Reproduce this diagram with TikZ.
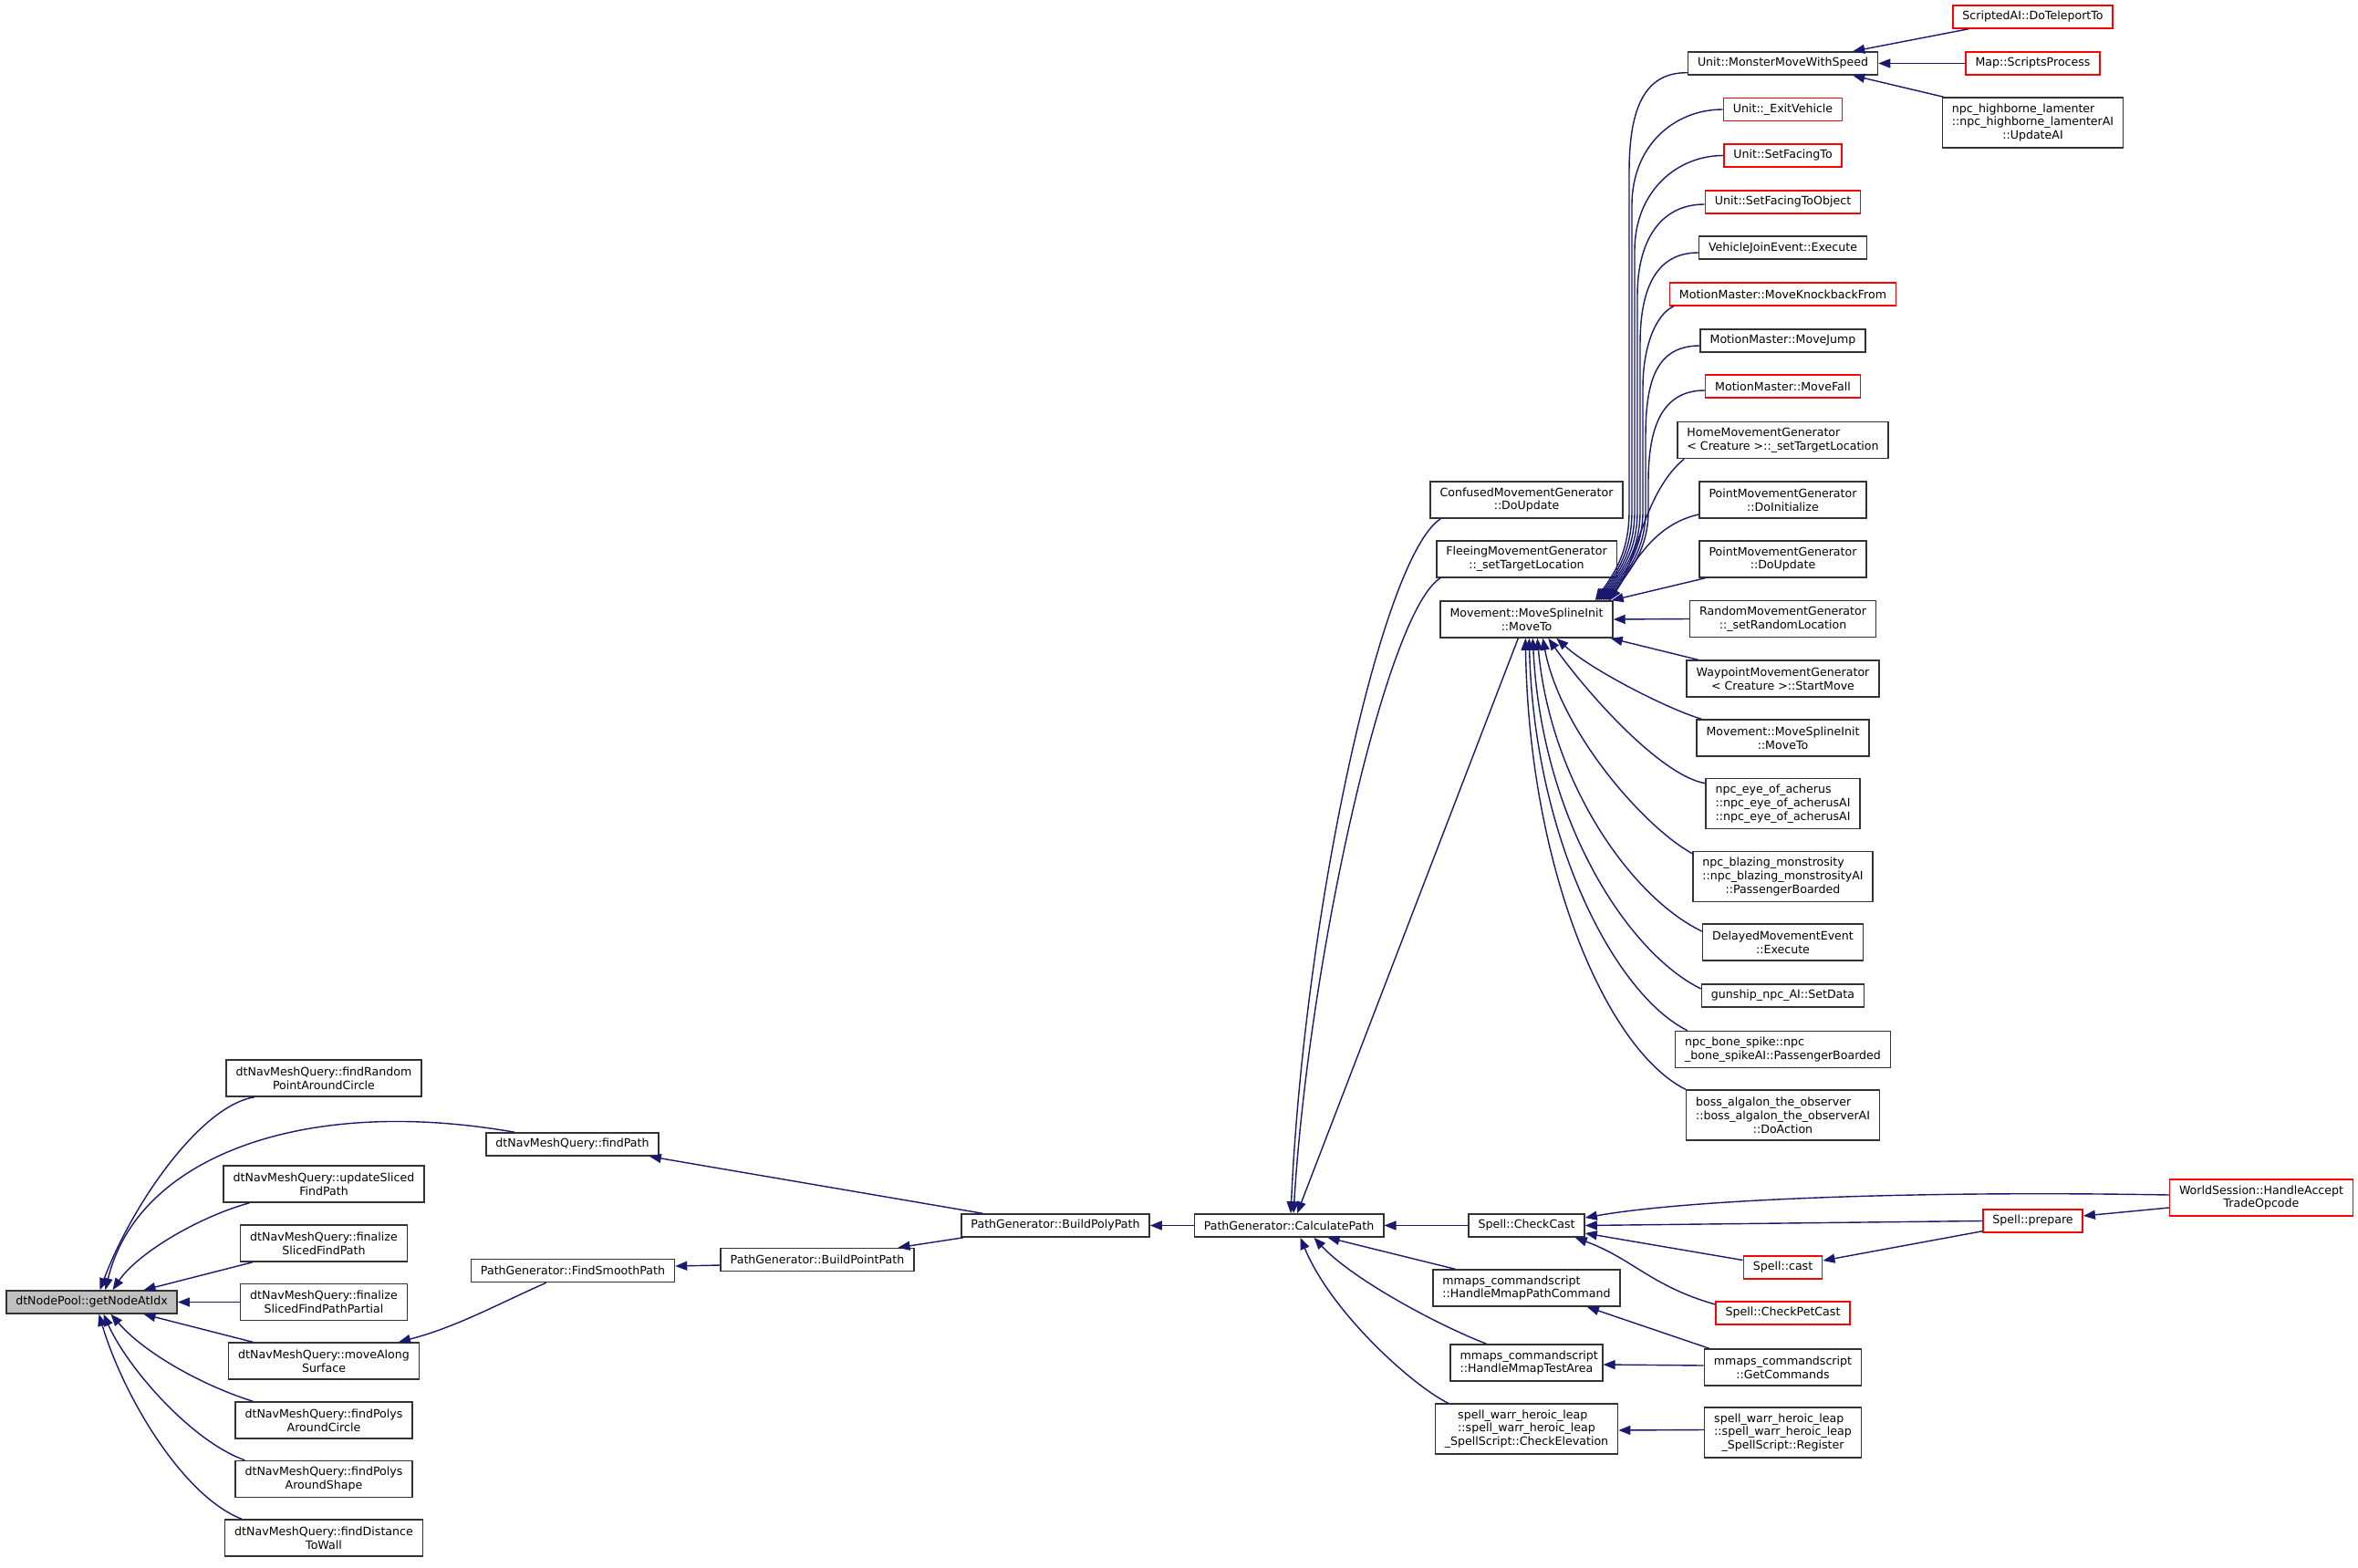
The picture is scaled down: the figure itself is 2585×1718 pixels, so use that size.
\documentclass[tikz,border=0pt]{standalone}
\usepackage{fontspec}
\setmainfont{DejaVu Sans}
\usetikzlibrary{arrows.meta,calc}
\definecolor{eblue}{HTML}{191970}
\definecolor{nred}{HTML}{FF0000}
\definecolor{rootgray}{HTML}{BFBFBF}
\definecolor{nborder}{HTML}{333333}
\newcommand\lft[2]{\rlap{#1}\phantom{#2}\\#2}
\begin{document}
\begin{tikzpicture}[x=0.5pt,y=-0.5pt,
  nd/.style={draw=nborder, line width=0.75pt, fill=white, rectangle, inner xsep=5.25pt, inner ysep=0pt, align=center, font=\fontsize{6.3pt}{7.4pt}\selectfont},
  rd/.style={nd, draw=nred},
  n1/.style={minimum height=12.5pt},
  n2/.style={minimum height=20pt},
  n3/.style={minimum height=27.5pt},
  lnk/.style={draw=eblue, line width=0.7pt, arrows={Triangle[length=6.5pt,width=5pt]-}}
]
\fill[white] (0,0) rectangle (2585,1718);
\useasboundingbox (0,0) rectangle (2585,1718);

% column 0-1
\node[nd,n1,fill=rootgray] (root) at (100.5,1427.5) {dtNodePool::getNodeAtIdx};
\node[nd,n2] (findRandom) at (355,1182) {dtNavMeshQuery::findRandom\\PointAroundCircle};
\node[nd,n2] (updateSliced) at (355,1298) {dtNavMeshQuery::updateSliced\\FindPath};
\node[nd,n2] (finalizeSliced) at (355,1363) {dtNavMeshQuery::finalize\\SlicedFindPath};
\node[nd,n2] (finalizePartial) at (355,1427.5) {dtNavMeshQuery::finalize\\SlicedFindPathPartial};
\node[nd,n2] (moveAlong) at (355,1492) {dtNavMeshQuery::moveAlong\\Surface};
\node[nd,n2] (polysCircle) at (355,1557) {dtNavMeshQuery::findPolys\\AroundCircle};
\node[nd,n2] (polysShape) at (355,1621.5) {dtNavMeshQuery::findPolys\\AroundShape};
\node[nd,n2] (findDistance) at (355,1686) {dtNavMeshQuery::findDistance\\ToWall};
% column 2-5
\node[nd,n1] (findPath) at (627.5,1254.5) {dtNavMeshQuery::findPath};
\node[nd,n1] (smoothPath) at (628,1393) {PathGenerator::FindSmoothPath};
\node[nd,n1] (pointPath) at (896,1381) {PathGenerator::BuildPointPath};
\node[nd,n1] (polyPath) at (1157,1343.5) {PathGenerator::BuildPolyPath};
\node[nd,n1] (calcPath) at (1413,1343.5) {PathGenerator::CalculatePath};
% column 6
\node[nd,n2] (confused) at (1673.5,548) {ConfusedMovementGenerator\\::DoUpdate};
\node[nd,n2] (fleeing) at (1673.5,613) {FleeingMovementGenerator\\::\_setTargetLocation};
\node[nd,n2] (moveToL) at (1673.5,679) {Movement::MoveSplineInit\\::MoveTo};
\node[nd,n1] (checkCast) at (1673.5,1343.5) {Spell::CheckCast};
\node[nd,n2] (pathCmd) at (1673.5,1412) {\lft{mmaps\_commandscript}{::HandleMmapPathCommand}};
\node[nd,n2] (testArea) at (1673.5,1494) {\lft{mmaps\_commandscript}{::HandleMmapTestArea}};
\node[nd,n3] (checkElev) at (1673.5,1566.5) {\lft{spell\_warr\_heroic\_leap}{::spell\_warr\_heroic\_leap}\\\_SpellScript::CheckElevation};
% column 7
\node[nd,n1] (monsterMove) at (1954.5,69.5) {Unit::MonsterMoveWithSpeed};
\node[rd,n1] (exitVeh) at (1954.5,120) {Unit::\_ExitVehicle};
\node[rd,n1] (facingTo) at (1954.5,170.5) {Unit::SetFacingTo};
\node[rd,n1] (facingObj) at (1954.5,221.5) {Unit::SetFacingToObject};
\node[nd,n1] (vehJoin) at (1954.5,271.5) {VehicleJoinEvent::Execute};
\node[rd,n1] (knockback) at (1954.5,322.5) {MotionMaster::MoveKnockbackFrom};
\node[nd,n1] (moveJump) at (1954.5,373.5) {MotionMaster::MoveJump};
\node[rd,n1] (moveFall) at (1954.5,423.5) {MotionMaster::MoveFall};
\node[nd,n2] (homeMG) at (1954.5,482.5) {\lft{HomeMovementGenerator}{< Creature >::\_setTargetLocation}};
\node[nd,n2] (pointInit) at (1954.5,548) {PointMovementGenerator\\::DoInitialize};
\node[nd,n2] (pointUpd) at (1954.5,613) {PointMovementGenerator\\::DoUpdate};
\node[nd,n2] (randomMG) at (1954.5,678.5) {RandomMovementGenerator\\::\_setRandomLocation};
\node[nd,n2] (waypoint) at (1954.5,744) {WaypointMovementGenerator\\< Creature >::StartMove};
\node[nd,n2] (moveToR) at (1954.5,809) {Movement::MoveSplineInit\\::MoveTo};
\node[nd,n3] (npcEye) at (1954.5,881) {\lft{npc\_eye\_of\_acherus}{::npc\_eye\_of\_acherusAI}\\::npc\_eye\_of\_acherusAI};
\node[nd,n3] (npcBlaze) at (1954.5,961) {\lft{npc\_blazing\_monstrosity}{::npc\_blazing\_monstrosityAI}\\::PassengerBoarded};
\node[nd,n2] (delayed) at (1954.5,1033) {DelayedMovementEvent\\::Execute};
\node[nd,n1] (gunship) at (1954.5,1091.5) {gunship\_npc\_AI::SetData};
\node[nd,n2] (boneSpike) at (1954.5,1150.5) {\lft{npc\_bone\_spike::npc}{\_bone\_spikeAI::PassengerBoarded}};
\node[nd,n3] (algalon) at (1954.5,1222.5) {\lft{boss\_algalon\_the\_observer}{::boss\_algalon\_the\_observerAI}\\::DoAction};
\node[rd,n1] (cast) at (1954.5,1389.5) {Spell::cast};
\node[rd,n1] (petCast) at (1954.5,1439.5) {Spell::CheckPetCast};
\node[nd,n2] (getCmds) at (1954.5,1499) {mmaps\_commandscript\\::GetCommands};
\node[nd,n3] (registerN) at (1954.5,1570.5) {\lft{spell\_warr\_heroic\_leap}{::spell\_warr\_heroic\_leap}\\\_SpellScript::Register};
% column 8-9
\node[rd,n1] (teleport) at (2228.5,18.5) {ScriptedAI::DoTeleportTo};
\node[rd,n1] (scripts) at (2228.5,69.5) {Map::ScriptsProcess};
\node[nd,n3] (highborne) at (2228.5,134.5) {\lft{npc\_highborne\_lamenter}{::npc\_highborne\_lamenterAI}\\::UpdateAI};
\node[rd,n1] (prepare) at (2228.5,1338.5) {Spell::prepare};
\node[rd,n2] (worldSession) at (2479,1313) {WorldSession::HandleAccept\\TradeOpcode};

% edges into root
\draw[lnk] ($(root.north west)+(103.5,0)$) .. controls (145,1320) and (220,1212) .. ($(findRandom.south west)+(31.5,0)$);
\draw[lnk] ($(root.north west)+(109.5,0)$) .. controls (150,1270) and (330,1200) .. ($(findPath.north west)+(32,0)$);
\draw[lnk] ($(root.north west)+(117.5,0)$) .. controls (150,1375) and (215,1335) .. ($(updateSliced.south west)+(29,0)$);
\draw[lnk] ($(root.north west)+(151.5,0)$) -- ($(finalizeSliced.south west)+(14,0)$);
\draw[lnk] (root.east) -- (finalizePartial.west);
\draw[lnk] ($(root.south west)+(151.5,0)$) -- ($(moveAlong.north west)+(27,0)$);
\draw[lnk] ($(root.south west)+(115.5,0)$) .. controls (160,1485) and (225,1520) .. ($(polysCircle.north west)+(20,0)$);
\draw[lnk] ($(root.south west)+(107.5,0)$) .. controls (140,1500) and (210,1580) .. ($(polysShape.north west)+(11,0)$);
\draw[lnk] ($(root.south west)+(102.5,0)$) .. controls (135,1530) and (200,1640) .. ($(findDistance.north west)+(19,0)$);

% middle chain
\draw[lnk] ($(findPath.south east)+(-11,0)$) -- ($(polyPath.north west)+(24,0)$);
\draw[lnk] ($(moveAlong.north east)+(-23,0)$) .. controls (500,1455) and (545,1430) .. ($(smoothPath.south west)+(83,0)$);
\draw[lnk] ($(smoothPath.east)+(0,-5)$) -- ($(pointPath.west)+(0,6)$);
\draw[lnk] ($(pointPath.north east)+(-18,0)$) -- ($(polyPath.south west)+(3,0)$);
\draw[lnk] (polyPath.east) -- (calcPath.west);

% into CalculatePath
\draw[lnk] ($(calcPath.north)+(2,0)$) .. controls (1430,1000) and (1515,610) .. ($(confused.south west)+(12,0)$);
\draw[lnk] ($(calcPath.north)+(5,0)$) .. controls (1435,1050) and (1520,670) .. ($(fleeing.south west)+(5,0)$);
\draw[lnk] ($(calcPath.north)+(9,0)$) -- ($(moveToL.south west)+(86,0)$);
\draw[lnk] (calcPath.east) -- (checkCast.west);
\draw[lnk] ($(calcPath.south east)+(-62,0)$) -- ($(pathCmd.north west)+(25,0)$);
\draw[lnk] ($(calcPath.south east)+(-77,0)$) .. controls (1480,1400) and (1570,1450) .. ($(testArea.north west)+(40,0)$);
\draw[lnk] ($(calcPath.south east)+(-92,0)$) .. controls (1460,1440) and (1550,1520) .. ($(checkElev.north west)+(15,0)$);

% into MoveTo (left) from above
\draw[lnk] ($(moveToL.north east)+(-20,0)$) .. controls (1770,628) and (1786,605) .. (1786,560) -- (1786,189) .. controls (1786,124) and (1800,79) .. ($(monsterMove.south west)+(0,-3)$);
\draw[lnk] ($(moveToL.north east)+(-18,0)$) .. controls (1772,628) and (1789,605) .. (1789,560) -- (1789,225) .. controls (1789,160) and (1835,120) .. (exitVeh.west);
\draw[lnk] ($(moveToL.north east)+(-16,0)$) .. controls (1774,628) and (1792,605) .. (1792,560) -- (1792,275) .. controls (1792,210) and (1838,170.5) .. (facingTo.west);
\draw[lnk] ($(moveToL.north east)+(-14,0)$) .. controls (1776,628) and (1795,605) .. (1795,560) -- (1795,324) .. controls (1795,264) and (1820,224) .. ($(facingObj.west)+(0,2.5)$);
\draw[lnk] ($(moveToL.north east)+(-12,0)$) .. controls (1778,628) and (1798,605) .. (1798,560) -- (1798,377) .. controls (1798,317) and (1815,277) .. ($(vehJoin.west)+(0,5.5)$);
\draw[lnk] ($(moveToL.north east)+(-10,0)$) .. controls (1780,628) and (1801,605) .. (1801,560) -- (1801,425) .. controls (1801,380) and (1815,345) .. ($(knockback.south west)+(5,0)$);
\draw[lnk] ($(moveToL.north east)+(-8,0)$) .. controls (1782,628) and (1804,605) .. (1804,560) -- (1804,479) .. controls (1804,419) and (1815,379) .. ($(moveJump.west)+(0,5.5)$);
\draw[lnk] ($(moveToL.north east)+(-6,0)$) .. controls (1784,628) and (1807,605) .. (1807,560) -- (1807,528) .. controls (1807,468) and (1822,428) .. ($(moveFall.west)+(0,4.5)$);
\draw[lnk] ($(moveToL.north east)+(-5,0)$) .. controls (1795,615) and (1802,540) .. ($(homeMG.south west)+(8,0)$);
\draw[lnk] ($(moveToL.north east)+(-4,0)$) .. controls (1790,620) and (1812,575) .. ($(pointInit.west)+(0,16)$);
\draw[lnk] ($(moveToL.north east)+(-2,0)$) -- ($(pointUpd.south west)+(7,0)$);
\draw[lnk] (moveToL.east) -- (randomMG.west);
\draw[lnk] ($(moveToL.south east)+(-3,0)$) -- ($(waypoint.north west)+(13,0)$);
% into MoveTo (left) from below
\draw[lnk] ($(moveToL.south west)+(128,0)$) .. controls (1745,735) and (1830,778) .. ($(moveToR.north west)+(6,0)$);
\draw[lnk] ($(moveToL.south west)+(119,0)$) .. controls (1740,760) and (1820,850) .. ($(npcEye.north west)+(0,6)$);
\draw[lnk] ($(moveToL.south west)+(113,0)$) .. controls (1710,800) and (1800,905) .. ($(npcBlaze.north west)+(0,3)$);
\draw[lnk] ($(moveToL.south west)+(107,0)$) .. controls (1700,860) and (1790,985) .. ($(delayed.west)+(0,-12)$);
\draw[lnk] ($(moveToL.south west)+(102,0)$) .. controls (1690,900) and (1785,1045) .. ($(gunship.west)+(0,-7.5)$);
\draw[lnk] ($(moveToL.south west)+(98,0)$) .. controls (1682,920) and (1770,1090) .. ($(boneSpike.north west)+(14,0)$);
\draw[lnk] ($(moveToL.south west)+(94,0)$) .. controls (1676,950) and (1760,1150) .. (algalon.north west);

% into MonsterMoveWithSpeed
\draw[lnk] ($(monsterMove.north east)+(-28,0)$) -- ($(teleport.south west)+(18,0)$);
\draw[lnk] (monsterMove.east) -- (scripts.west);
\draw[lnk] ($(monsterMove.south east)+(-28,0)$) -- ($(highborne.north west)+(2,0)$);

% Spell edges
\draw[lnk] ($(checkCast.east)+(0,-8.5)$) .. controls (1850,1315) and (2100,1305) .. ($(worldSession.west)+(0,-3)$);
\draw[lnk] (checkCast.east) -- (prepare.west);
\draw[lnk] ($(checkCast.east)+(0,8.5)$) -- ($(cast.west)+(0,-8)$);
\draw[lnk] ($(checkCast.south east)+(-11,0)$) .. controls (1790,1380) and (1810,1410) .. ($(petCast.west)+(0,-9.5)$);
\draw[lnk] ($(cast.east)+(0,-7.5)$) -- ($(prepare.south west)+(0,-2)$);
\draw[lnk] ($(prepare.east)+(0,-5.5)$) -- ($(worldSession.west)+(0,11)$);

% mmaps / heroic leap
\draw[lnk] ($(pathCmd.south east)+(-37,0)$) -- ($(getCmds.north west)+(6,0)$);
\draw[lnk] ($(testArea.east)+(0,2)$) -- ($(getCmds.west)+(0,-2)$);
\draw[lnk] ($(checkElev.east)+(0,1.5)$) -- ($(registerN.west)+(0,-3)$);
\end{tikzpicture}
\end{document}
